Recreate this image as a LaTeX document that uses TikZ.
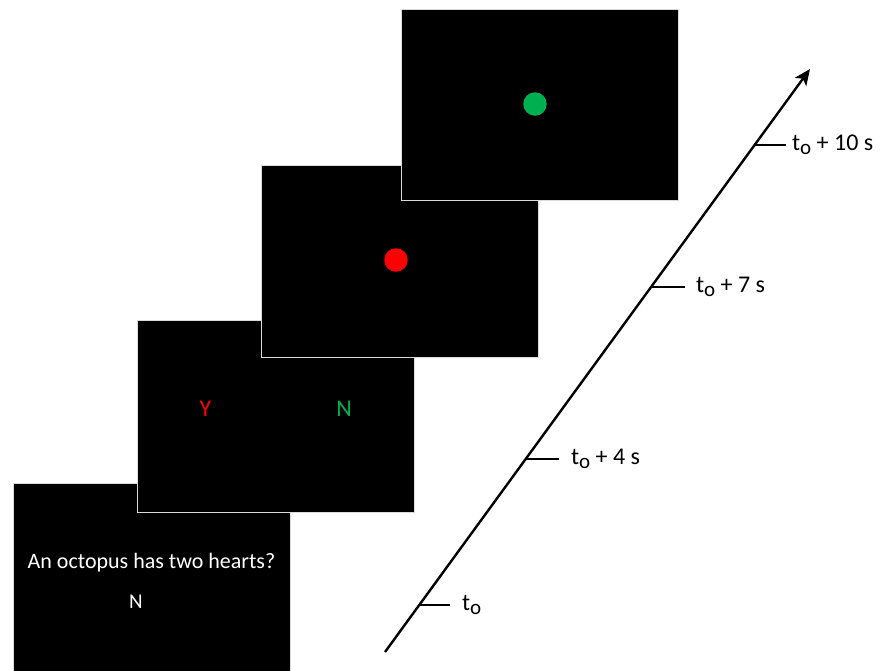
\documentclass[tikz,border=0pt]{standalone}
\usepackage{fontspec}
\setmainfont{Carlito}
\usetikzlibrary{arrows.meta}
\definecolor{pgreen}{HTML}{00B050}
\definecolor{pred}{HTML}{FF0000}
\definecolor{edge}{HTML}{D9D9D9}
\newcommand{\tsub}{t{\fontsize{21}{22}\selectfont\raisebox{-3.5pt}{o}}}
\begin{document}
\begin{tikzpicture}[x=1pt,y=-1pt,
  panel/.style={draw=edge, line width=1.3pt, fill=black, anchor=north west, inner sep=0pt, minimum width=277pt, minimum height=192pt},
  dot/.style={circle, inner sep=0pt, minimum size=23.5pt},
  axisline/.style={line width=2.4pt, -{Stealth[length=16pt, width=14pt, inset=4pt]}},
  tickline/.style={line width=1.6pt},
  lbl/.style={anchor=base west, inner sep=0pt, font=\fontsize{24}{26}\selectfont},
  wtxt/.style={text=white, inner sep=0pt, font=\fontsize{22}{24}\selectfont}
]
\useasboundingbox (0,0) rectangle (881,670);
\clip (0,0) rectangle (881,670);
% panels
\node[panel, minimum height=200pt] (p1) at (12.5,483) {};
\node[panel] (p2) at (136.5,319.5) {};
\node[panel] (p3) at (261,164.5) {};
\node[panel, minimum height=191pt] (p4) at (400.5,9) {};
% panel contents
\node[wtxt] (q) at (151.5,563) {An octopus has two hearts?};
\node[wtxt, font=\fontsize{21}{22}\selectfont] (n1) at (136,601.5) {N};
\node[wtxt, text=pred, font=\fontsize{24}{26}\selectfont] (y2) at (205.5,409) {Y};
\node[wtxt, text=pgreen, font=\fontsize{24}{26}\selectfont] (n2) at (344,409) {N};
\node[dot, fill=pred] (rd) at (396,260) {};
\node[dot, fill=pgreen] (gd) at (535,104) {};
% axis
\coordinate (a0) at (385,652);
\coordinate (a1) at (810,69);
\draw[axisline] (a0) -- (a1);
% ticks
\coordinate (k0) at (419.3,605); \coordinate (k0e) at (450,605);
\coordinate (k1) at (525.8,459); \coordinate (k1e) at (559,459);
\coordinate (k2) at (651.2,287); \coordinate (k2e) at (685,287);
\coordinate (k3) at (754.6,145); \coordinate (k3e) at (786,145);
\draw[tickline] (k0) -- (k0e);
\draw[tickline] (k1) -- (k1e);
\draw[tickline] (k2) -- (k2e);
\draw[tickline] (k3) -- (k3e);
\node[lbl] (l0) at (462,610.5) {\tsub};
\node[lbl] (l1) at (571,464.5) {\tsub{} + 4 s};
\node[lbl] (l2) at (696,292.5) {\tsub{} + 7 s};
\node[lbl] (l3) at (792,150.5) {\tsub{} + 10 s};
\end{tikzpicture}
\end{document}
